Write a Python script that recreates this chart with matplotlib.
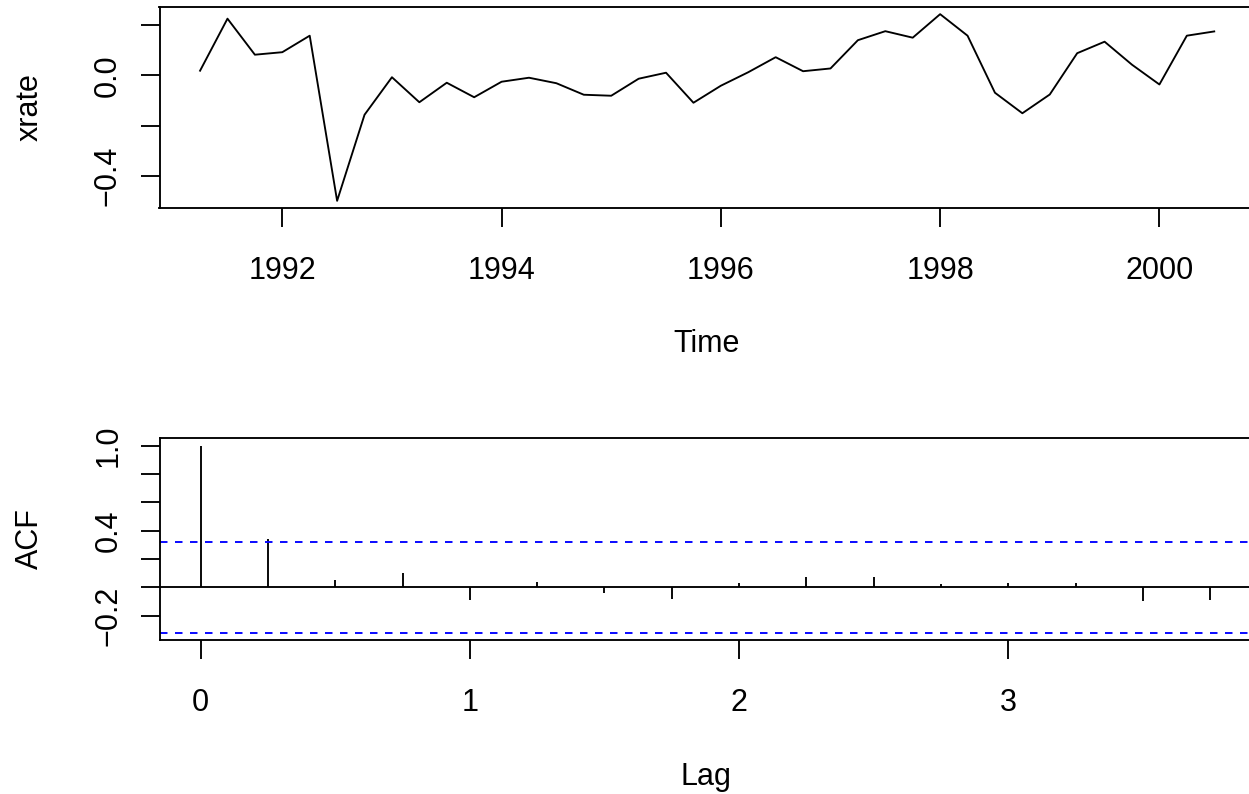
import numpy as np
import matplotlib
matplotlib.use("Agg")
import matplotlib.pyplot as plt

# quarterly series, 1991 Q2 - 2000 Q3
start_year = 1991.25
xrate = [0.019, 0.227, 0.083, 0.093, 0.159, -0.501, -0.157, -0.007,
         -0.107, -0.029, -0.087, -0.025, -0.009, -0.031, -0.077, -0.081,
         -0.013, 0.011, -0.109, -0.041, 0.013, 0.073, 0.017, 0.028,
         0.141, 0.177, 0.151, 0.245, 0.159, -0.069, -0.151, -0.076,
         0.089, 0.135, 0.043, -0.036, 0.159, 0.176]

# autocorrelations, lags 0..15 quarters
acf_vals = [1.0, 0.345, 0.054, 0.10, -0.086, 0.042, -0.039, -0.081,
            0.031, 0.073, 0.073, 0.024, 0.035, 0.033, -0.098, -0.086]

year_ticks = [1992, 1994, 1996, 1998, 2000]
xrate_ticks = [-0.4, -0.2, 0.0, 0.2]
xrate_labels = ["\u22120.4", "", "0.0", ""]
acf_ticks = [-0.2, 0.0, 0.2, 0.4, 0.6, 0.8, 1.0]
acf_labels = ["\u22120.2", "", "", "0.4", "", "", "1.0"]
lag_ticks = [0, 1, 2, 3]

W, H = 1249, 794
LW = 1.35
FS = 22

plt.rcParams["font.family"] = ["Liberation Sans", "DejaVu Sans"]
plt.rcParams["font.size"] = FS

fig = plt.figure(figsize=(W / 100, H / 100), dpi=100)


def px_box(left, top, right, bottom):
    return [left / W, 1 - bottom / H, (right - left) / W, (bottom - top) / H]


def style_axes(ax):
    for s in ax.spines.values():
        s.set_linewidth(LW)
    ax.tick_params(direction="out", length=13.7, width=LW, colors="black")
    ax.tick_params(axis="x", pad=20.8)
    ax.tick_params(axis="y", pad=12.7)
    plt.setp(ax.get_yticklabels(), rotation=90, va="center", ha="right")


# time series panel
n = len(xrate)
t = start_year + np.arange(n) / 4.0
ax1 = fig.add_axes(px_box(159.5, 6.7, 1254.8, 208.3))
ax1.plot(t, xrate, color="black", lw=LW)
x_pad = 0.04 * (t[-1] - t[0])
y_pad = 0.04 * (max(xrate) - min(xrate))
ax1.set_xlim(t[0] - x_pad, t[-1] + x_pad)
ax1.set_ylim(min(xrate) - y_pad, max(xrate) + y_pad)
ax1.set_xticks(year_ticks)
ax1.set_xticklabels([str(y) for y in year_ticks])
ax1.set_yticks(xrate_ticks)
ax1.set_yticklabels(xrate_labels)
style_axes(ax1)

# acf panel
lags = np.arange(len(acf_vals)) / 4.0
clim = 1.96 / np.sqrt(n)
ax2 = fig.add_axes(px_box(160.3, 438.3, 1250.6, 640.0))
ax2.vlines(lags, 0, acf_vals, color="black", lw=LW)
ax2.axhline(0, color="black", lw=LW)
ax2.axhline(clim, color="blue", lw=LW, ls=(0, (4, 4)))
ax2.axhline(-clim, color="blue", lw=LW, ls=(0, (4, 4)))
lo = min(-clim, min(acf_vals))
hi = max(clim, max(acf_vals))
ax2.set_xlim(-0.04 * lags[-1], lags[-1] * 1.04)
ax2.set_ylim(lo - 0.04 * (hi - lo), hi + 0.04 * (hi - lo))
ax2.set_xticks(lag_ticks)
ax2.set_xticklabels([str(l) for l in lag_ticks])
ax2.set_yticks(acf_ticks)
ax2.set_yticklabels(acf_labels)
style_axes(ax2)

# axis titles
fig.text(707 / W, 1 - 352 / H, "Time", ha="center", va="baseline")
fig.text(705.5 / W, 1 - 784.5 / H, "Lag", ha="center", va="baseline")
fig.text(38 / W, 1 - 107.5 / H, "xrate", rotation=90, rotation_mode="anchor",
         ha="center", va="baseline")
fig.text(38 / W, 1 - 539 / H, "ACF", rotation=90, rotation_mode="anchor",
         ha="center", va="baseline")

fig.savefig("out.png", dpi=100)
